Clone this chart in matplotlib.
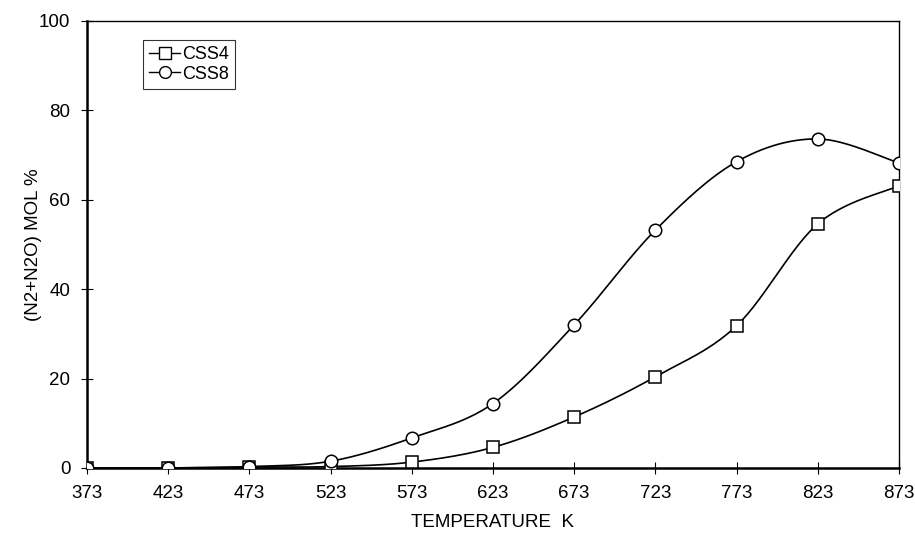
# N2 + N2O yield vs temperature for CSS4 and CSS8

import numpy as np
import matplotlib.pyplot as plt

plt.rcParams['font.family'] = ['Liberation Sans', 'DejaVu Sans']

# Data
temps = [373, 423, 473, 523, 573, 623, 673, 723, 773, 823, 873]
css4 = [0.0, 0.0, 0.2, 0.3, 1.3, 4.6, 11.4, 20.4, 31.8, 54.6, 63.1]
css8 = [0.0, 0.0, 0.3, 1.5, 6.7, 14.4, 32.0, 53.2, 68.5, 73.6, 68.2]
xticks = [373, 423, 473, 523, 573, 623, 673, 723, 773, 823, 873]
yticks = [0, 20, 40, 60, 80, 100]


def smooth(x, y, n=30):
    # Excel-like smoothed line: cubic Bezier with Catmull-Rom control points
    x = np.asarray(x, float)
    y = np.asarray(y, float)
    pts = np.column_stack([x, y])
    ext = np.vstack([pts[0], pts, pts[-1]])
    t = np.linspace(0, 1, n)[:, None]
    out = []
    for i in range(len(pts) - 1):
        p0, p1, p2, p3 = ext[i], ext[i + 1], ext[i + 2], ext[i + 3]
        c1 = p1 + (p2 - p0) / 6
        c2 = p2 - (p3 - p1) / 6
        seg = ((1 - t) ** 3) * p1 + 3 * ((1 - t) ** 2) * t * c1 \
            + 3 * (1 - t) * t ** 2 * c2 + t ** 3 * p2
        out.append(seg if i == 0 else seg[1:])
    out = np.vstack(out)
    return out[:, 0], out[:, 1]


fig = plt.figure(figsize=(9.15, 5.36), dpi=100)
ax = fig.add_axes([0.095, 0.127, 0.8875, 0.834])

for vals, mk, lab in [(css4, 's', 'CSS4'), (css8, 'o', 'CSS8')]:
    sx, sy = smooth(temps, vals)
    ax.plot(sx, sy, color='black', lw=1.2, zorder=2)
    ax.plot(temps, vals, linestyle='none', marker=mk, ms=9,
            mfc='white', mec='black', mew=1.1, zorder=3)
    # proxy for the legend
    ax.plot([], [], color='black', lw=1.0, marker=mk, ms=8.5,
            mfc='white', mec='black', mew=1.0, label=lab)

ax.set_xlim(373, 873)
ax.set_ylim(0, 100)
ax.set_xticks(xticks)
ax.set_yticks(yticks)
ax.tick_params(direction='inout', length=8, width=0.8, labelsize=13.5, pad=8)

for side in ['left', 'bottom']:
    ax.spines[side].set_linewidth(1.8)
for side in ['top', 'right']:
    ax.spines[side].set_linewidth(1.0)

ax.set_xlabel('TEMPERATURE  K', fontsize=13.5, labelpad=9)
ax.set_ylabel('(N2+N2O) MOL %', fontsize=13.5)
ax.yaxis.set_label_coords(-0.055, 0.5)

leg = ax.legend(loc='upper left', bbox_to_anchor=(0.069, 0.957), fontsize=13,
                frameon=True, fancybox=False, handlelength=1.7,
                handletextpad=0.1, borderpad=0.35, labelspacing=0.12,
                borderaxespad=0)
leg.get_frame().set_edgecolor('black')
leg.get_frame().set_linewidth(0.8)

fig.savefig('out.png', dpi=100)
